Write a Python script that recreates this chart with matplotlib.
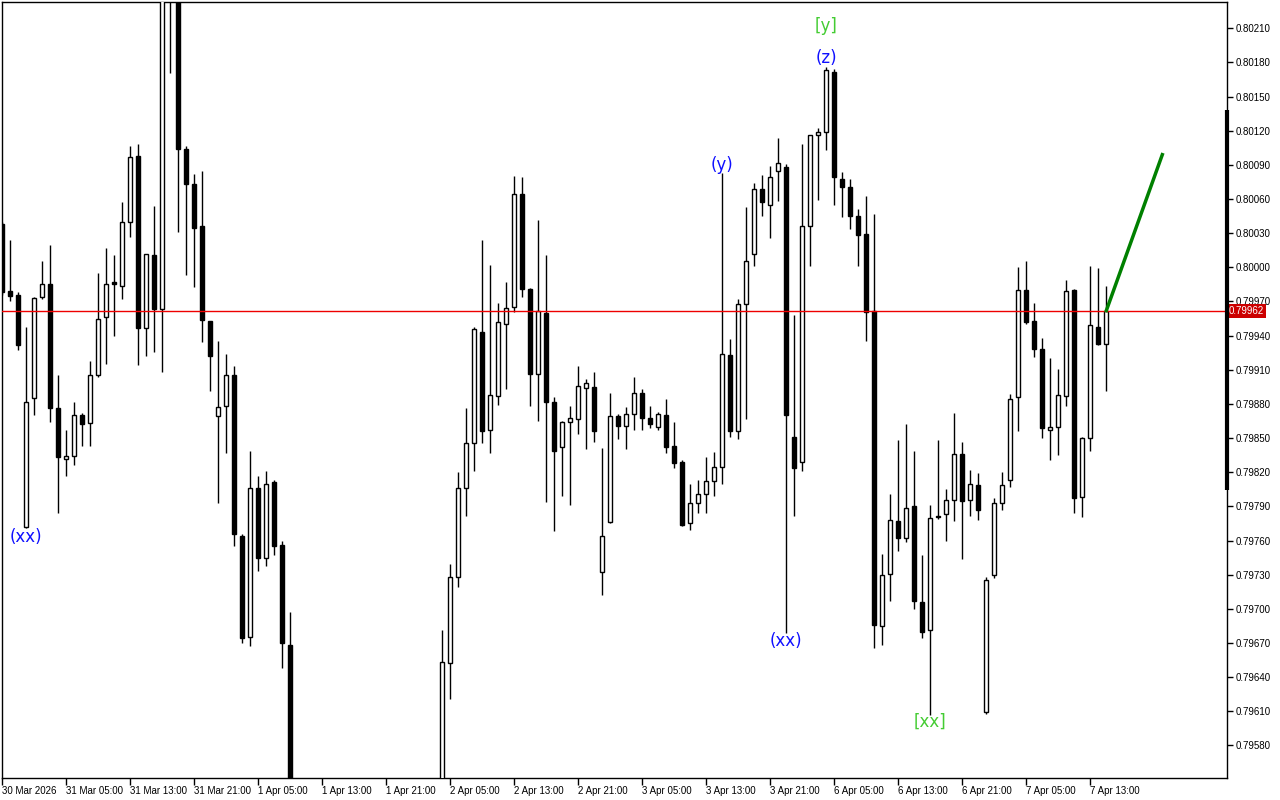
import numpy as np
import matplotlib
matplotlib.use("Agg")
import matplotlib.pyplot as plt
import matplotlib.transforms as mtransforms

# hourly OHLC, bar 0 = 30 Mar 21:00 (bars 37-54 are below the visible range)
opens = [0.80038, 0.79979, 0.79976, 0.79772, 0.79885, 0.79974, 0.79985, 0.79876, 0.79832, 0.79834,
         0.79870, 0.79863, 0.79905, 0.79956, 0.79987, 0.79984, 0.80040, 0.80098, 0.79947, 0.80011,
         0.79963, 0.80262, 0.80250, 0.80104, 0.80073, 0.80036, 0.79953, 0.79869, 0.79878, 0.79905,
         0.79764, 0.79675, 0.79806, 0.79745, 0.79811, 0.79756, 0.79668, 0.79520, 0.79496, 0.79510,
         0.79502, 0.79478, 0.79498, 0.79524, 0.79512, 0.79500, 0.79490, 0.79506, 0.79520, 0.79514,
         0.79504, 0.79516, 0.79528, 0.79520, 0.79530, 0.79532, 0.79652, 0.79728, 0.79806, 0.79846,
         0.79943, 0.79857, 0.79887, 0.79950, 0.79965, 0.80064, 0.79981, 0.79906, 0.79960, 0.79882,
         0.79842, 0.79864, 0.79867, 0.79894, 0.79895, 0.79732, 0.79776, 0.79869, 0.79861, 0.79871,
         0.79890, 0.79868, 0.79860, 0.79870, 0.79843, 0.79829, 0.79775, 0.79793, 0.79801, 0.79812,
         0.79825, 0.79923, 0.79856, 0.79968, 0.80012, 0.80069, 0.80055, 0.80085, 0.80088, 0.79851,
         0.79829, 0.80036, 0.80116, 0.80119, 0.80172, 0.80078, 0.80071, 0.80045, 0.80029, 0.79962,
         0.79685, 0.79731, 0.79777, 0.79762, 0.79790, 0.79706, 0.79681, 0.79782, 0.79783, 0.79796,
         0.79836, 0.79796, 0.79809, 0.79609, 0.79730, 0.79793, 0.79813, 0.79886, 0.79980, 0.79953,
         0.79928, 0.79857, 0.79860, 0.79887, 0.79980, 0.79798, 0.79850, 0.79948, 0.79933]
highs = [0.80040, 0.80024, 0.79978, 0.79948, 0.79974, 0.80006, 0.80020, 0.79905, 0.79857, 0.79882,
         0.79872, 0.79918, 0.79995, 0.80017, 0.80011, 0.80057, 0.80107, 0.80108, 0.80012, 0.80054,
         0.80270, 0.80285, 0.80258, 0.80107, 0.80082, 0.80085, 0.79953, 0.79935, 0.79924, 0.79913,
         0.79766, 0.79839, 0.79817, 0.79821, 0.79813, 0.79760, 0.79697, 0.79538, 0.79522, 0.79534,
         0.79515, 0.79505, 0.79530, 0.79545, 0.79528, 0.79518, 0.79512, 0.79531, 0.79540, 0.79526,
         0.79522, 0.79538, 0.79544, 0.79536, 0.79546, 0.79681, 0.79739, 0.79820, 0.79876, 0.79948,
         0.80024, 0.80002, 0.79969, 0.79987, 0.80080, 0.80079, 0.79982, 0.80042, 0.80011, 0.79886,
         0.79865, 0.79878, 0.79913, 0.79902, 0.79908, 0.79841, 0.79890, 0.79871, 0.79877, 0.79904,
         0.79893, 0.79878, 0.79873, 0.79884, 0.79864, 0.79831, 0.79810, 0.79813, 0.79833, 0.79838,
         0.80083, 0.79937, 0.79972, 0.80053, 0.80074, 0.80081, 0.80089, 0.80114, 0.80091, 0.79958,
         0.80108, 0.80116, 0.80122, 0.80176, 0.80174, 0.80084, 0.80078, 0.80051, 0.80063, 0.80047,
         0.79748, 0.79801, 0.79848, 0.79862, 0.79839, 0.79747, 0.79791, 0.79848, 0.79805, 0.79872,
         0.79847, 0.79822, 0.79819, 0.79728, 0.79797, 0.79820, 0.79889, 0.80000, 0.80006, 0.79969,
         0.79938, 0.79920, 0.79911, 0.79989, 0.79981, 0.79851, 0.80001, 0.79999, 0.79984]
lows = [0.79976, 0.79970, 0.79927, 0.79771, 0.79870, 0.79972, 0.79864, 0.79784, 0.79817, 0.79826,
        0.79843, 0.79843, 0.79904, 0.79915, 0.79940, 0.79972, 0.80027, 0.79914, 0.79922, 0.79926,
        0.79908, 0.80171, 0.80031, 0.79993, 0.79983, 0.79934, 0.79891, 0.79793, 0.79837, 0.79755,
        0.79670, 0.79667, 0.79733, 0.79738, 0.79747, 0.79648, 0.79505, 0.79488, 0.79478, 0.79497,
        0.79470, 0.79462, 0.79490, 0.79505, 0.79494, 0.79480, 0.79475, 0.79498, 0.79508, 0.79496,
        0.79490, 0.79506, 0.79512, 0.79506, 0.79518, 0.79520, 0.79621, 0.79719, 0.79782, 0.79821,
        0.79846, 0.79837, 0.79879, 0.79893, 0.79961, 0.79974, 0.79878, 0.79865, 0.79794, 0.79768,
        0.79799, 0.79791, 0.79854, 0.79840, 0.79847, 0.79712, 0.79775, 0.79849, 0.79840, 0.79857,
        0.79857, 0.79859, 0.79857, 0.79837, 0.79824, 0.79773, 0.79769, 0.79784, 0.79784, 0.79799,
        0.79810, 0.79851, 0.79849, 0.79867, 0.80001, 0.80045, 0.80026, 0.80058, 0.79679, 0.79782,
        0.79821, 0.80001, 0.80059, 0.80103, 0.80055, 0.80044, 0.80034, 0.80001, 0.79935, 0.79666,
        0.79668, 0.79707, 0.79751, 0.79759, 0.79700, 0.79674, 0.79607, 0.79779, 0.79760, 0.79777,
        0.79744, 0.79782, 0.79778, 0.79608, 0.79727, 0.79787, 0.79807, 0.79856, 0.79950, 0.79921,
        0.79850, 0.79831, 0.79835, 0.79878, 0.79784, 0.79781, 0.79839, 0.79932, 0.79891]
closes = [0.79978, 0.79975, 0.79932, 0.79882, 0.79973, 0.79985, 0.79876, 0.79833, 0.79834, 0.79870,
          0.79862, 0.79905, 0.79955, 0.79985, 0.79985, 0.80040, 0.80097, 0.79947, 0.80012, 0.79963,
          0.80262, 0.80250, 0.80104, 0.80073, 0.80035, 0.79954, 0.79922, 0.79877, 0.79905, 0.79766,
          0.79674, 0.79806, 0.79745, 0.79810, 0.79755, 0.79670, 0.79520, 0.79496, 0.79510, 0.79502,
          0.79478, 0.79498, 0.79524, 0.79512, 0.79500, 0.79490, 0.79506, 0.79520, 0.79514, 0.79504,
          0.79516, 0.79528, 0.79520, 0.79530, 0.79532, 0.79653, 0.79728, 0.79806, 0.79846, 0.79946,
          0.79856, 0.79888, 0.79952, 0.79964, 0.80064, 0.79981, 0.79906, 0.79962, 0.79882, 0.79839,
          0.79864, 0.79868, 0.79896, 0.79898, 0.79856, 0.79764, 0.79869, 0.79861, 0.79871, 0.79890,
          0.79868, 0.79862, 0.79871, 0.79842, 0.79828, 0.79774, 0.79793, 0.79801, 0.79812, 0.79825,
          0.79924, 0.79856, 0.79968, 0.80006, 0.80069, 0.80057, 0.80079, 0.80092, 0.79870, 0.79824,
          0.80036, 0.80116, 0.80119, 0.80173, 0.80079, 0.80071, 0.80045, 0.80028, 0.79961, 0.79686,
          0.79730, 0.79778, 0.79762, 0.79789, 0.79707, 0.79680, 0.79780, 0.79781, 0.79796, 0.79836,
          0.79795, 0.79810, 0.79787, 0.79725, 0.79793, 0.79809, 0.79884, 0.79980, 0.79952, 0.79928,
          0.79859, 0.79860, 0.79888, 0.79979, 0.79797, 0.79850, 0.79949, 0.79933, 0.79962]

time_labels = ["30 Mar 2026", "31 Mar 05:00", "31 Mar 13:00", "31 Mar 21:00", "1 Apr 05:00",
               "1 Apr 13:00", "1 Apr 21:00", "2 Apr 05:00", "2 Apr 13:00", "2 Apr 21:00",
               "3 Apr 05:00", "3 Apr 13:00", "3 Apr 21:00", "6 Apr 05:00", "6 Apr 13:00",
               "6 Apr 21:00", "7 Apr 05:00", "7 Apr 13:00"]
price_ticks = [0.80210, 0.80180, 0.80150, 0.80120, 0.80090, 0.80060, 0.80030, 0.80000,
               0.79970, 0.79940, 0.79910, 0.79880, 0.79850, 0.79820, 0.79790, 0.79760,
               0.79730, 0.79700, 0.79670, 0.79640, 0.79610, 0.79580]
bid = 0.79962

# wave marks: bar index, price, text, colour
wave_idx = [3, 90, 98, 103, 103, 116]
wave_price = [0.79763, 0.80090, 0.79672, 0.80184, 0.80212, 0.79601]
wave_text = ["(xx)", "(y)", "(xx)", "(z)", "[y]", "[xx]"]
wave_color = ["#1010ff", "#1010ff", "#1010ff", "#1010ff", "#44cc33", "#44cc33"]

# projection from last bar
proj_x = [138, 145]
proj_y = [0.79962, 0.80099]

o = np.array(opens); h = np.array(highs); l = np.array(lows); c = np.array(closes)
x = np.arange(len(o))
up = c >= o

fig = plt.figure(figsize=(12.8, 8), dpi=100)
ax = fig.add_axes([2/1280, 22/800, 1225/1280, 776/800])

ax.vlines(x, l, h, color="black", linewidth=1, zorder=2)
ax.bar(x[up], (c - o)[up], bottom=o[up], width=0.5, color="white",
       edgecolor="black", linewidth=1, zorder=3)
ax.bar(x[~up], (o - c)[~up], bottom=c[~up], width=0.5, color="black",
       edgecolor="black", linewidth=1, zorder=3)

ax.axhline(bid, color="#ee0000", linewidth=1, zorder=4)
ax.plot(proj_x, proj_y, color="#008000", linewidth=2.5, zorder=5)

for i, p, t, col in zip(wave_idx, wave_price, wave_text, wave_color):
    ax.text(i, p, t, color=col, ha="center", va="center", fontsize=12, zorder=6)

ax.set_xlim(-0.04, -0.04 + 1225/8)
ax.set_ylim(0.795514, 0.802331)

ax.set_xticks(np.arange(0, 8*len(time_labels), 8))
ax.set_xticklabels(time_labels, ha="left", fontsize=7, family="Liberation Sans")
ax.tick_params(axis="x", direction="out", length=5, width=1, pad=1)

ax.yaxis.tick_right()
ax.set_yticks(price_ticks)
ax.set_yticklabels(["%.5f" % v for v in price_ticks], fontsize=7, family="Liberation Sans")
ax.tick_params(axis="y", direction="out", length=4, width=1, pad=2)

for s in ax.spines.values():
    s.set_color("black")
    s.set_linewidth(1)

trans = mtransforms.blended_transform_factory(ax.transAxes, ax.transData)
ax.plot([1, 1], [0.80138, 0.79804], transform=trans, color="black", linewidth=3,
        solid_capstyle="butt", clip_on=False, zorder=7)
ax.text(1.0015, bid, "%.5f" % bid, transform=trans, color="white", fontsize=7,
        family="Liberation Sans", ha="left", va="center",
        bbox=dict(facecolor="#cc0000", edgecolor="none", pad=1.5))

fig.savefig("out.png", dpi=100)
